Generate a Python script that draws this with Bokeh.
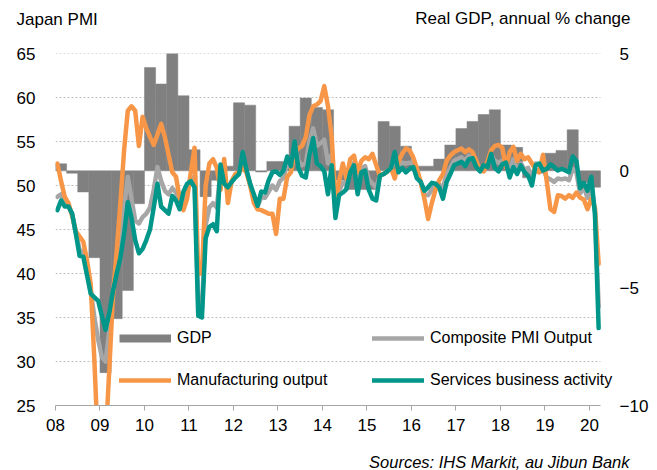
from bokeh.plotting import figure
from bokeh.models import (Range1d, LinearAxis, FixedTicker, Legend, LegendItem, Label)
from bokeh.embed import file_html
from bokeh.resources import INLINE

# ---------------- data (monthly, Jan 2008 - Mar 2020) ----------------
start_year = 2008

services = [
    47.2, 48.3, 47.6, 47.6, 46.8, 44.5, 42.0, 41.9, 39.8, 37.7, 37.3, 36.9,   # 2008
    35.2, 33.6, 35.5, 38.0, 40.0, 41.8, 44.5, 48.1, 46.3, 43.8, 42.3, 42.8,   # 2009
    43.8, 45.0, 47.5, 50.2, 47.6, 47.2, 46.8, 48.8, 48.3, 47.3, 49.3, 50.2,   # 2010
    50.5, 49.8, 35.2, 35.0, 44.0, 45.3, 45.6, 44.8, 52.4, 50.2, 49.8, 50.4,   # 2011
    50.9, 51.3, 53.8, 51.8, 50.2, 49.0, 47.7, 49.3, 49.2, 50.6, 51.5, 51.6,   # 2012
    51.2, 51.7, 53.3, 52.2, 55.0, 52.0, 51.1, 50.9, 53.5, 55.4, 52.5, 52.2,   # 2013
    51.6, 49.0, 52.3, 46.3, 48.9, 49.2, 49.6, 51.5, 52.3, 49.0, 51.5, 51.7,   # 2014
    49.5, 48.5, 48.3, 51.1, 51.3, 51.6, 52.0, 53.8, 51.5, 52.0, 51.5, 51.9,   # 2015
    52.1, 50.8, 50.4, 49.4, 49.8, 50.3, 50.2, 49.8, 48.5, 50.4, 51.3, 52.3,   # 2016
    52.5, 52.7, 52.2, 53.0, 53.1, 52.1, 51.6, 52.3, 52.1, 53.6, 52.0, 51.6,   # 2017
    52.4, 52.6, 50.9, 52.1, 51.3, 52.3, 51.5, 51.1, 50.0, 52.3, 52.5, 51.7,   # 2018
    51.9, 52.4, 52.1, 51.7, 51.9, 51.7, 51.5, 53.3, 52.8, 49.7, 50.3, 49.4,   # 2019
    51.0, 46.8, 33.8,                                                         # 2020
]

manufacturing = [
    52.5, 50.5, 48.7, 48.0, 46.5, 44.8, 44.2, 43.6, 41.5, 38.8, 30.0, 20.0,   # 2008
    18.0, 21.0, 29.0, 37.5, 42.5, 48.0, 54.0, 58.5, 59.0, 58.5, 54.5, 57.8,   # 2009
    56.5, 55.5, 54.6, 55.8, 57.0, 55.5, 53.5, 51.5, 51.0, 48.5, 47.2, 48.5,   # 2010
    51.5, 54.3, 40.0, 40.0, 50.0, 52.5, 53.0, 52.0, 49.5, 53.0, 48.0, 50.5,   # 2011
    51.3, 51.5, 52.0, 51.5, 50.0, 48.0, 47.3, 47.2, 47.0, 46.8, 46.8, 44.5,   # 2012
    48.5, 48.5, 51.0, 51.5, 53.8, 54.2, 54.5, 55.5, 58.0, 59.0, 59.2, 59.6,   # 2013
    61.3, 59.0, 55.5, 48.0, 50.5, 52.5, 50.8, 53.0, 53.4, 51.5, 52.8, 53.2,   # 2014
    53.0, 53.6, 52.3, 51.1, 51.3, 51.6, 52.0, 50.8, 52.7, 53.6, 54.2, 54.0,   # 2015
    53.2, 51.9, 50.4, 48.5, 46.2, 48.0, 49.5, 50.6, 51.3, 52.8, 53.4, 53.8,   # 2016
    54.0, 54.2, 53.8, 54.1, 53.8, 52.8, 51.7, 51.6, 52.7, 54.0, 54.5, 54.6,   # 2017
    54.3, 52.1, 53.8, 54.4, 52.8, 53.6, 53.0, 53.2, 52.5, 51.8, 51.5, 53.5,   # 2018
    50.5, 47.3, 47.0, 48.9, 48.8, 48.5, 48.9, 48.6, 49.2, 48.6, 48.4, 47.3,   # 2019
    48.5, 47.5, 41.1,                                                         # 2020
]

composite = [
    48.7, 49.0, 47.9, 47.7, 46.7, 44.6, 42.7, 42.4, 40.4, 38.1, 35.0, 32.5,   # 2008
    30.5, 30.0, 33.5, 38.0, 41.0, 44.0, 47.5, 51.0, 48.5, 46.0, 45.7, 46.4,   # 2009
    46.8, 47.5, 49.5, 52.1, 50.5, 49.4, 49.0, 49.7, 49.2, 48.0, 48.5, 49.8,   # 2010
    50.8, 51.0, 36.5, 36.0, 45.5, 47.5, 48.0, 47.5, 51.5, 51.0, 49.3, 50.4,   # 2011
    51.0, 51.4, 53.2, 51.7, 50.1, 48.7, 47.6, 48.7, 48.6, 49.3, 50.0, 49.5,   # 2012
    50.5, 50.9, 52.6, 52.0, 54.7, 52.8, 52.3, 52.5, 55.0, 56.5, 54.5, 54.8,   # 2013
    55.2, 52.5, 53.5, 47.0, 49.4, 50.3, 50.1, 52.0, 52.6, 50.0, 51.9, 52.2,   # 2014
    50.7, 50.2, 49.8, 51.1, 51.3, 51.6, 52.0, 52.8, 52.0, 52.6, 52.5, 52.6,   # 2015
    52.5, 51.2, 50.4, 49.0, 48.9, 49.5, 50.0, 50.1, 49.8, 51.3, 52.0, 52.8,   # 2016
    53.0, 53.2, 52.8, 53.4, 53.3, 52.4, 51.8, 52.2, 52.3, 53.5, 52.8, 52.6,   # 2017
    52.8, 52.2, 51.8, 53.0, 51.7, 52.5, 51.8, 52.0, 50.7, 52.5, 52.4, 52.0,   # 2018
    50.9, 50.7, 50.4, 50.8, 50.7, 50.8, 50.6, 51.9, 51.5, 49.1, 49.8, 48.6,   # 2019
    50.1, 47.0, 36.2,                                                         # 2020
]

# Real GDP, annual % change, quarterly 2008Q1 - 2020Q1
gdp = [
    0.3, -0.1, -0.9, -3.7,     # 2008
    -8.6, -6.3, -5.1, -1.4,    # 2009
    4.4, 3.7, 5.0, 3.2,        # 2010
    0.9, -1.1, -0.4, 0.2,      # 2011
    2.9, 2.8, -0.05, 0.4,      # 2012
    0.4, 1.9, 3.1, 2.7,        # 2013
    2.6, -0.4, -0.8, -0.8,     # 2014
    -0.8, 2.1, 1.9, 1.05,      # 2015
    0.2, 0.2, 0.5, 1.1,        # 2016
    1.8, 2.1, 2.4, 2.6,        # 2017
    1.1, 1.0, -0.3, -0.1,      # 2018
    0.75, 0.87, 1.75, -0.5,    # 2019
    -0.7,                      # 2020
]

x_tick_years = list(range(2008, 2021))
x_tick_labels = ["08", "09", "10", "11", "12", "13", "14", "15", "16", "17", "18", "19", "20"]
pmi_ticks = [25, 30, 35, 40, 45, 50, 55, 60, 65]
gdp_ticks = [-10, -5, 0, 5]

title_left = "Japan PMI"
title_right = "Real GDP, annual % change"
source_text = "Sources: IHS Markit, au Jibun Bank"

month_x = [start_year + (i + 0.5) / 12 for i in range(len(services))]
quarter_x = [start_year + (q + 0.5) / 4 for q in range(len(gdp))]
axis_end = start_year + len(gdp) / 4          # end of 2020Q1

FONT = "Liberation Sans"
W, H = 657, 470
BL, BR, BT, BB = 55, 42, 53, 65
px_per_year = 545 / 12.25
frame_w = W - BL - BR

p = figure(width=W, height=H,
           x_range=Range1d(start_year, start_year + frame_w / px_per_year),
           y_range=Range1d(25, 65),
           x_axis_type=None, y_axis_type=None,
           output_backend="svg", toolbar_location=None,
           min_border_left=BL, min_border_right=BR,
           min_border_top=BT, min_border_bottom=BB)
p.outline_line_color = None
p.background_fill_color = "white"
p.extra_y_ranges = {"gdp": Range1d(-10, 5)}

# dotted horizontal grid lines, spanning the axis extent
grid_levels = [t for t in pmi_ticks if t > 25]
p.segment(x0=[start_year] * len(grid_levels), x1=[axis_end] * len(grid_levels),
          y0=grid_levels, y1=grid_levels, line_color="#BFBFBF", line_dash="2 2",
          line_width=1)

# axes
xaxis = LinearAxis(ticker=FixedTicker(ticks=x_tick_years),
                   major_label_overrides={y: l for y, l in zip(x_tick_years, x_tick_labels)},
                   bounds=(start_year, axis_end))
xaxis.axis_line_color = "#A6A6A6"
xaxis.major_tick_line_color = "#A6A6A6"
xaxis.major_tick_out = 5
xaxis.major_tick_in = 0
xaxis.minor_tick_line_color = None
xaxis.major_label_standoff = 8
xaxis.major_label_text_font = FONT
xaxis.major_label_text_font_size = "17px"
xaxis.major_label_text_color = "#000000"
p.add_layout(xaxis, "below")

yaxis = LinearAxis(ticker=FixedTicker(ticks=pmi_ticks))
yaxis.axis_line_color = None
yaxis.major_tick_line_color = None
yaxis.minor_tick_line_color = None
yaxis.major_tick_out = 0
yaxis.major_tick_in = 0
yaxis.major_label_standoff = 20
yaxis.major_label_text_font = FONT
yaxis.major_label_text_font_size = "17px"
yaxis.major_label_text_color = "#000000"
p.add_layout(yaxis, "left")

raxis = LinearAxis(y_range_name="gdp", ticker=FixedTicker(ticks=gdp_ticks))
raxis.axis_line_color = None
raxis.major_tick_line_color = None
raxis.minor_tick_line_color = None
raxis.major_tick_out = 0
raxis.major_tick_in = 0
raxis.major_label_standoff = 4
raxis.major_label_text_font = FONT
raxis.major_label_text_font_size = "17px"
raxis.major_label_text_color = "#000000"
p.add_layout(raxis, "right")

# GDP bars
p.vbar(x=quarter_x, top=gdp, bottom=0, width=0.25, y_range_name="gdp",
       fill_color="#808080", line_color="#808080", line_width=0.5)

lw = 4.5
r_comp = p.line(month_x, composite, line_color="#A6A6A6", line_width=lw,
                line_join="round", line_cap="round")
r_manu = p.line(month_x, manufacturing, line_color="#F79646", line_width=lw,
                line_join="round", line_cap="round")
r_serv = p.line(month_x, services, line_color="#00968A", line_width=lw,
                line_join="round", line_cap="round")

# legend proxy for the GDP bars (a single invisible point)
gdp_proxy = p.line(x=[start_year], y=[float("nan")], line_color="#808080",
                   line_width=8, line_cap="butt")


def make_legend(items, loc):
    lg = Legend(items=items, location=loc, orientation="vertical")
    lg.label_text_font = FONT
    lg.label_text_font_size = "16px"
    lg.label_text_color = "#000000"
    lg.glyph_width = 52
    lg.glyph_height = 20
    lg.label_height = 20
    lg.spacing = 22
    lg.label_standoff = 6
    lg.padding = 0
    lg.margin = 0
    lg.border_line_color = None
    lg.background_fill_alpha = 0
    return lg


p.add_layout(make_legend([LegendItem(label="GDP", renderers=[gdp_proxy]),
                          LegendItem(label="Manufacturing output", renderers=[r_manu])],
                         (64, 15)), "center")
p.add_layout(make_legend([LegendItem(label="Composite PMI Output", renderers=[r_comp]),
                          LegendItem(label="Services business activity", renderers=[r_serv])],
                         (317, 15)), "center")

# texts outside the plot frame, placed in the side panels
p.add_layout(Label(x=16 - BL, y=34.4, x_units="screen", y_units="screen",
                   text=title_left, text_font=FONT, text_font_size="17px",
                   text_align="left", text_baseline="alphabetic", text_color="#000000"),
             "above")
p.add_layout(Label(x=630 - BL, y=16.4, x_units="screen", y_units="screen",
                   text=title_right, text_font=FONT, text_font_size="17px",
                   text_align="right", text_baseline="alphabetic", text_color="#000000"),
             "above")
p.add_layout(Label(x=629 - BL, y=-10, x_units="screen", y_units="screen",
                   text=source_text, text_font=FONT, text_font_size="16.5px",
                   text_font_style="italic", text_align="right", text_baseline="alphabetic",
                   text_color="#000000"),
             "below")

open("out.html", "w").write(file_html(p, INLINE))
